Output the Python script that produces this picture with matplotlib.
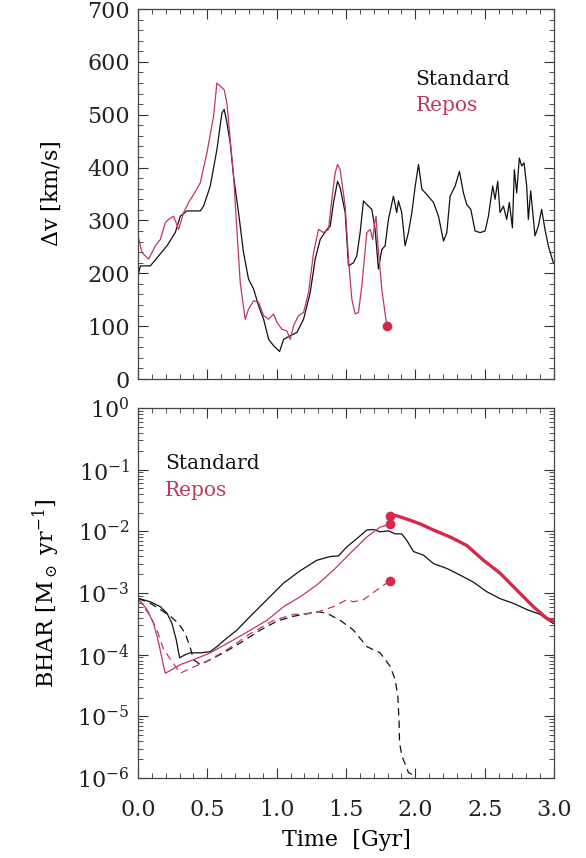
import numpy as np
import matplotlib
matplotlib.use("Agg")
import matplotlib.pyplot as plt
from matplotlib.ticker import MultipleLocator, LogLocator, NullFormatter, FixedLocator

plt.rcParams['font.family'] = ['DejaVu Serif']
plt.rcParams['mathtext.fontset'] = 'dejavuserif'

RED = '#d8284a'
RED_THIN = '#c0385a'

# ---------------- Top panel: velocity difference ----------------
t_dv_std = [0.000, 0.017, 0.089, 0.209, 0.269, 0.305, 0.353, 0.449, 0.473, 0.521, 0.569, 0.605, 0.622,
            0.641, 0.665, 0.689, 0.725, 0.761, 0.797, 0.834, 0.870, 0.906, 0.942, 0.978, 1.021, 1.050,
            1.098, 1.146, 1.194, 1.242, 1.278, 1.314, 1.362, 1.386, 1.410, 1.439, 1.458, 1.494, 1.518,
            1.554, 1.578, 1.602, 1.626, 1.650, 1.686, 1.710, 1.734, 1.758, 1.782, 1.806, 1.842, 1.866,
            1.878, 1.902, 1.926, 1.950, 1.975, 1.999, 2.023, 2.047, 2.083, 2.131, 2.167, 2.203, 2.227,
            2.251, 2.287, 2.318, 2.347, 2.371, 2.400, 2.431, 2.467, 2.503, 2.527, 2.558, 2.575, 2.594,
            2.611, 2.635, 2.659, 2.678, 2.700, 2.714, 2.731, 2.750, 2.767, 2.784, 2.803, 2.815, 2.832,
            2.863, 2.887, 2.911, 2.935, 2.959, 2.995]
dv_std = [195, 214, 214, 252, 277, 308, 318, 318, 327, 365, 434, 503, 510,
          485, 447, 384, 315, 239, 189, 170, 138, 113, 75, 63, 52, 75,
          82, 88, 113, 164, 227, 264, 283, 289, 334, 374, 362, 315, 214,
          220, 233, 277, 337, 330, 321, 283, 208, 245, 252, 302, 346, 315,
          337, 315, 252, 277, 315, 365, 406, 359, 349, 334, 308, 261, 277,
          346, 365, 393, 352, 330, 321, 280, 277, 280, 308, 365, 340, 374,
          315, 327, 302, 334, 286, 396, 352, 418, 403, 409, 365, 302, 356,
          271, 289, 321, 283, 252, 220]

t_dv_rep = [0.000, 0.029, 0.077, 0.125, 0.161, 0.197, 0.221, 0.257, 0.293, 0.329, 0.365, 0.401, 0.449,
            0.497, 0.545, 0.569, 0.593, 0.622, 0.641, 0.665, 0.689, 0.713, 0.737, 0.773, 0.797, 0.834,
            0.870, 0.906, 0.942, 0.978, 1.002, 1.038, 1.074, 1.098, 1.122, 1.158, 1.194, 1.230, 1.266,
            1.302, 1.338, 1.374, 1.398, 1.422, 1.439, 1.458, 1.494, 1.518, 1.542, 1.566, 1.590, 1.614,
            1.650, 1.674, 1.693, 1.703, 1.717, 1.727, 1.758, 1.794]
dv_rep = [271, 239, 227, 252, 264, 296, 302, 308, 283, 315, 334, 349, 371,
          428, 497, 560, 554, 547, 522, 453, 384, 283, 183, 113, 132, 148,
          145, 120, 113, 123, 107, 94, 91, 75, 101, 120, 126, 164, 239,
          283, 277, 283, 340, 390, 406, 396, 327, 227, 151, 123, 126, 176,
          277, 283, 264, 289, 308, 264, 170, 101]

# ---------------- Bottom panel: BH accretion rate ----------------
t_bh_std = [0.000, 0.089, 0.161, 0.209, 0.245, 0.276, 0.300, 0.341, 0.377, 0.449, 0.521, 0.569, 0.641,
            0.713, 0.810, 0.930, 1.050, 1.170, 1.290, 1.386, 1.446, 1.506, 1.578, 1.650, 1.698, 1.746,
            1.806, 1.854, 1.902, 1.939, 1.987, 2.059, 2.131, 2.227, 2.323, 2.419, 2.515, 2.611, 2.707,
            2.803, 2.899, 2.959, 2.995]
bh_std = [8.2e-4, 7.2e-4, 6.0e-4, 4.7e-4, 3.2e-4, 1.74e-4, 8.9e-5, 1.0e-4, 1.07e-4, 1.07e-4, 1.12e-4,
          1.35e-4, 1.86e-4, 2.5e-4, 4.2e-4, 7.8e-4, 1.45e-3, 2.3e-3, 3.4e-3, 3.9e-3, 4.0e-3, 5.6e-3,
          7.6e-3, 1.05e-2, 1.07e-2, 9.8e-3, 1.02e-2, 9.1e-3, 9.1e-3, 7.1e-3, 4.7e-3, 4.1e-3, 3.0e-3,
          2.5e-3, 1.95e-3, 1.5e-3, 1.05e-3, 8.1e-4, 6.8e-4, 5.4e-4, 4.5e-4, 3.6e-4, 3.2e-4]

t_bh_std2 = [0.000, 0.089, 0.161, 0.233, 0.293, 0.341, 0.377, 0.401, 0.449, 0.521, 0.617, 0.737, 0.882,
             1.002, 1.122, 1.218, 1.290, 1.362, 1.458, 1.554, 1.650, 1.746, 1.818, 1.854, 1.874, 1.883,
             1.886, 1.902, 1.926, 1.950, 1.987]
bh_std2 = [8.2e-4, 6.8e-4, 5.4e-4, 4.2e-4, 3.2e-4, 2.2e-4, 1.3e-4, 8.3e-5, 6.9e-5, 8.3e-5, 1.07e-4,
           1.55e-4, 2.5e-4, 3.5e-4, 4.2e-4, 4.6e-4, 5.0e-4, 4.7e-4, 3.6e-4, 2.5e-4, 1.35e-4, 1.07e-4,
           6.5e-5, 4.0e-5, 2.1e-5, 7.9e-6, 3.8e-6, 2.3e-6, 1.7e-6, 1.23e-6, 1.1e-6]

t_bh_rep = [0.000, 0.065, 0.113, 0.149, 0.185, 0.197, 0.245, 0.305, 0.401, 0.521, 0.689, 0.810, 0.930,
            1.050, 1.170, 1.290, 1.410, 1.530, 1.650, 1.746, 1.794, 1.818]
bh_rep = [8.2e-4, 5.4e-4, 3.2e-4, 1.55e-4, 6.5e-5, 5.0e-5, 5.75e-5, 6.9e-5, 8.3e-5, 1.07e-4, 1.74e-4,
          2.5e-4, 3.6e-4, 6.0e-4, 8.7e-4, 1.35e-3, 2.35e-3, 4.4e-3, 8.1e-3, 1.17e-2, 1.26e-2, 1.32e-2]

t_bh_rep2 = [0.000, 0.089, 0.137, 0.185, 0.221, 0.281, 0.305, 0.377, 0.497, 0.641, 0.810, 0.978, 1.122,
             1.266, 1.410, 1.506, 1.554, 1.626, 1.722, 1.818]
bh_rep2 = [8.2e-4, 4.2e-4, 2.5e-4, 1.2e-4, 9.3e-5, 6.0e-5, 5.0e-5, 6.0e-5, 7.8e-5, 1.2e-4, 2.2e-4,
           3.6e-4, 4.5e-4, 4.7e-4, 6.0e-4, 7.8e-4, 7.2e-4, 7.8e-4, 1.12e-3, 1.58e-3]

t_bh_merged = [1.818, 1.854, 1.939, 2.035, 2.131, 2.251, 2.371, 2.491, 2.611, 2.731, 2.851, 2.947, 2.995]
bh_merged = [1.74e-2, 1.82e-2, 1.58e-2, 1.32e-2, 1.05e-2, 8.1e-3, 5.9e-3, 3.4e-3, 2.1e-3, 1.12e-3,
             6.0e-4, 3.9e-4, 3.5e-4]

t_dots_bh = [1.818, 1.818, 1.818]
bh_dots = [1.74e-2, 1.3e-2, 1.58e-3]
t_dot_dv = [1.795]
dv_dot = [100]

x_ticks = [0.0, 0.5, 1.0, 1.5, 2.0, 2.5, 3.0]
x_ticklabels = ['0.0', '0.5', '1.0', '1.5', '2.0', '2.5', '3.0']

fig = plt.figure(figsize=(5.86, 8.58), dpi=100)
W, H = 586, 858
ax1 = fig.add_axes([138 / W, 1 - 379 / H, (554 - 138) / W, (379 - 9) / H])
ax2 = fig.add_axes([138 / W, 1 - 778 / H, (554 - 138) / W, (778 - 408) / H])

FS = 16
for ax in (ax1, ax2):
    ax.set_xlim(0, 3)
    ax.xaxis.set_major_locator(FixedLocator(x_ticks))
    ax.xaxis.set_minor_locator(MultipleLocator(0.1))
    ax.tick_params(which='both', direction='in', top=True, right=True, colors='#333333',
                   labelcolor='#222222', labelsize=FS)
    ax.tick_params(which='major', length=7, width=0.8)
    ax.tick_params(which='minor', length=3.5, width=0.6)
    ax.tick_params(axis='x', pad=15)
    ax.tick_params(axis='y', pad=6)
    for s in ax.spines.values():
        s.set_color('#444444')
        s.set_linewidth(0.9)

# Top
ax1.plot(t_dv_std, dv_std, color='#111111', lw=0.9)
ax1.plot(t_dv_rep, dv_rep, color=RED_THIN, lw=0.9)
ax1.plot(t_dot_dv, dv_dot, 'o', color=RED, ms=7, mec='none')
ax1.set_ylim(0, 700)
ax1.yaxis.set_major_locator(MultipleLocator(100))
ax1.yaxis.set_minor_locator(MultipleLocator(20))
ax1.set_xticklabels([])
ax1.set_ylabel(r'$\Delta$v [km/s]', fontsize=FS, labelpad=17)
ax1.text(0.667, 0.795, 'Standard', transform=ax1.transAxes, fontsize=14.5, color='#111111')
ax1.text(0.667, 0.725, 'Repos', transform=ax1.transAxes, fontsize=14.5, color=RED_THIN)

# Bottom
ax2.set_yscale('log')
ax2.plot(t_bh_std, bh_std, color='#111111', lw=0.9)
ax2.plot(t_bh_std2, bh_std2, color='#111111', lw=0.9, ls=(0, (6, 4)))
ax2.plot(t_bh_rep, bh_rep, color=RED_THIN, lw=0.9)
ax2.plot(t_bh_rep2, bh_rep2, color=RED_THIN, lw=0.9, ls=(0, (6, 4)))
ax2.plot(t_bh_merged, bh_merged, color=RED, lw=2.4)
ax2.plot(t_dots_bh, bh_dots, 'o', color=RED, ms=7, mec='none')
ax2.set_ylim(1e-6, 1)
ax2.yaxis.set_major_locator(LogLocator(base=10, numticks=10))
ax2.yaxis.set_minor_locator(LogLocator(base=10, subs=np.arange(2, 10), numticks=20))
ax2.yaxis.set_minor_formatter(NullFormatter())
ax2.set_xticklabels(x_ticklabels)
ax2.set_ylabel(r'BHAR [M$_\odot$ yr$^{-1}$]', fontsize=FS, labelpad=11)
ax2.set_xlabel('Time  [Gyr]', fontsize=FS, labelpad=6)
ax2.text(0.065, 0.835, 'Standard', transform=ax2.transAxes, fontsize=14.5, color='#111111')
ax2.text(0.065, 0.762, 'Repos', transform=ax2.transAxes, fontsize=14.5, color=RED_THIN)

fig.savefig('out.png', dpi=100)
